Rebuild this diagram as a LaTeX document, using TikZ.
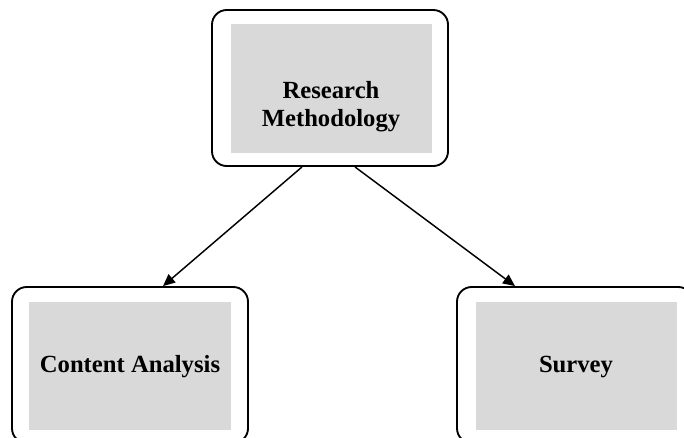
\documentclass[tikz,border=0pt]{standalone}
\usepackage{fontspec}
\setmainfont{Liberation Serif}
\usetikzlibrary{arrows.meta}
\definecolor{panelgray}{HTML}{D9D9D9}
\begin{document}
\begin{tikzpicture}[x=0.75pt,y=-0.75pt,
  frame/.style={draw, line width=1.4pt, rounded corners=11pt,
    minimum width=177pt, minimum height=117pt, inner sep=0pt},
  panel/.style={fill=panelgray, minimum width=151pt, minimum height=96.5pt, inner sep=0pt},
  label/.style={align=center, inner sep=0pt,
    font=\bfseries\fontsize{18.5}{21}\selectfont},
  link/.style={line width=1.1pt, -{Triangle[length=9pt,width=8pt]}}]
\useasboundingbox (0,0) rectangle (684,437);
\clip (0,0) rectangle (684,437);
% top box
\node[frame] (rmf) at (330,88) {};
\node[panel] (rmp) at (331.5,88.5) {};
\node[label] (rm) at (331,107) {Research\\Methodology};
% bottom left box
\node[frame] (caf) at (130,365) {};
\node[panel] (cap) at (130,366) {};
\node[label] (ca) at (130,367) {Content Analysis};
% bottom right box
\node[frame] (svf) at (575,365) {};
\node[panel] (svp) at (576.5,366) {};
\node[label] (sv) at (576,367) {Survey};
% connectors
\draw[link] ([xshift=-21pt]rmf.south) -- ([xshift=24.75pt]caf.north);
\draw[link] ([xshift=18.75pt]rmf.south) -- ([xshift=-45pt]svf.north);
\end{tikzpicture}
\end{document}
